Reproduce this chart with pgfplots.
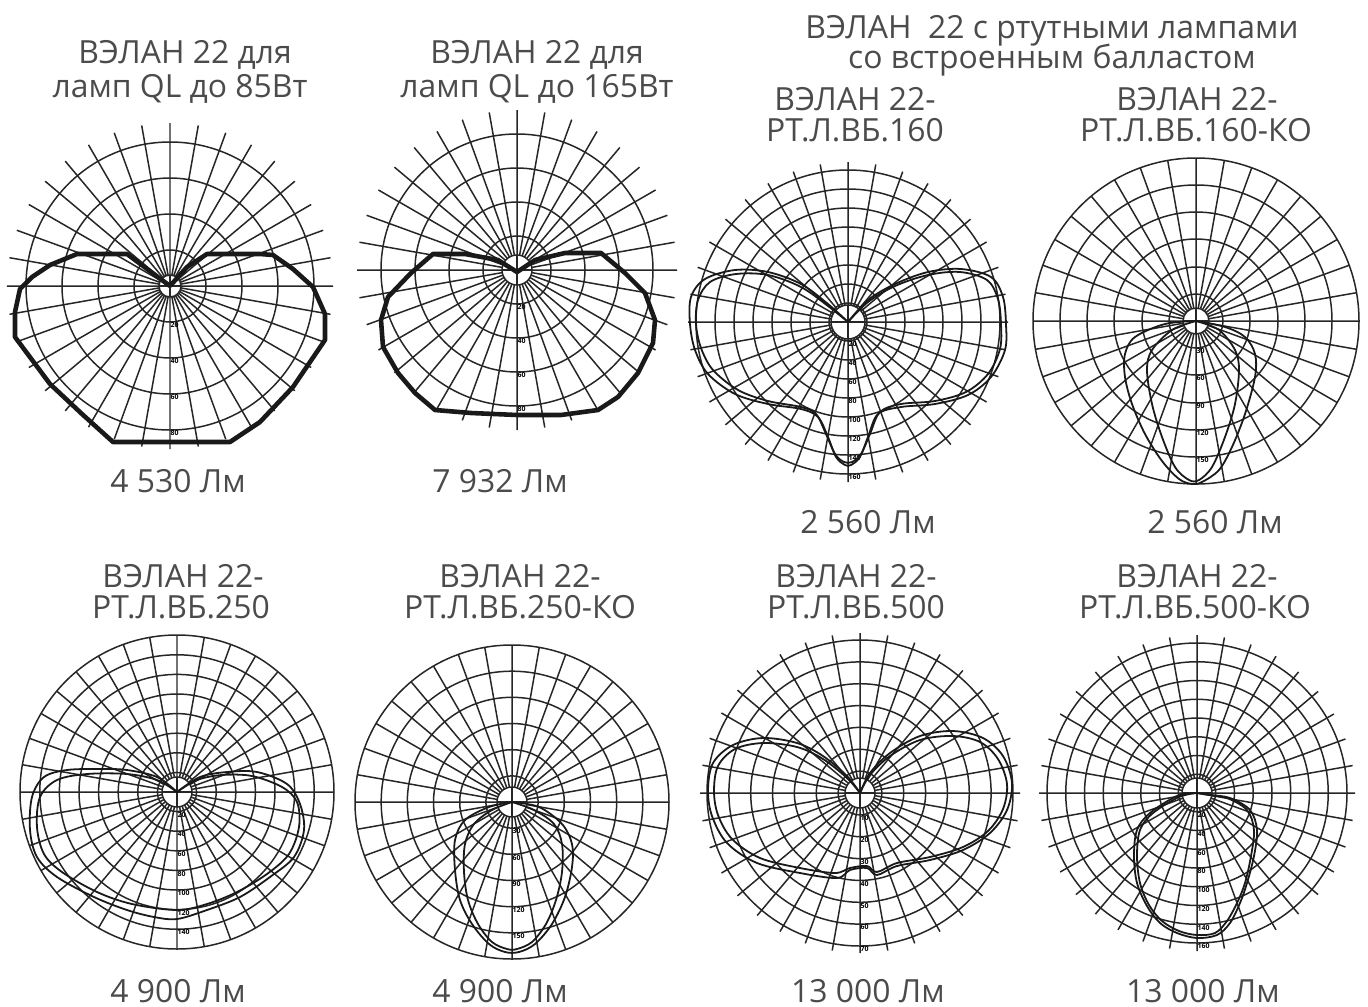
\documentclass[border=0pt]{standalone}
\usepackage{fontspec}
\setmainfont{Open Sans}
\usepackage{pgfplots}
\usepgfplotslibrary{polar}
\pgfplotsset{compat=1.18}
\definecolor{txt}{RGB}{75,75,75}

\pgfplotsset{
  diag/.style={
    scale only axis,
    anchor=center,
    clip=false,
    xmin=-90, xmax=270,
    xtick={-90,-80,...,260},
    xticklabels={},
    ymin=0,
    xmajorgrids, ymajorgrids,
    grid style={line width=1.5pt, black!85},
    axis line style={draw=none},
    major tick length=0pt,
    yticklabel style={font=\fontsize{7}{7}\selectfont\bfseries, anchor=north west, inner sep=0.5pt},
  },
  thickcurve/.style={data cs=cart, line width=4.6pt, line join=round, black!90},
  thincurve/.style={data cs=cart, line width=1.8pt, smooth, tension=0.55, black!90},
}

\newcommand{\hole}[1]{%
  \fill[white] (axis cs:0,0) circle[radius=#1bp];
  \draw[line width=1.5pt, black!85] (axis cs:0,0) circle[radius=#1bp];
  \draw[line width=1.5pt, black!85] (axis cs:0,#1) -- (axis cs:180,#1);
  \draw[line width=1.5pt, black!85] (axis cs:90,#1) -- (axis cs:270,#1);
}

\begin{document}
\begin{tikzpicture}
\path[use as bounding box] (0,0) rectangle (1368bp,-1007bp);

% titles
\begin{scope}[every node/.style={font=\fontsize{32}{38}\selectfont, text=txt, anchor=base, inner sep=0pt}]
\node at (185bp,-63bp) {ВЭЛАН 22 для};
\node at (180bp,-97bp) {ламп QL до 85Вт};
\node at (537bp,-63bp) {ВЭЛАН 22 для};
\node at (537bp,-97bp) {ламп QL до 165Вт};
\node at (1052bp,-38bp) {ВЭЛАН \ 22 с ртутными лампами};
\node at (1052bp,-68bp) {со встроенным балластом};
\node at (855bp,-110bp) {ВЭЛАН 22-};
\node at (855bp,-141bp) {РТ.Л.ВБ.160};
\node at (1197bp,-110bp) {ВЭЛАН 22-};
\node at (1196bp,-141bp) {РТ.Л.ВБ.160-КО};
\node at (178bp,-492bp) {4 530 Лм};
\node at (500bp,-492bp) {7 932 Лм};
\node at (868bp,-533bp) {2 560 Лм};
\node at (1215bp,-533bp) {2 560 Лм};
\node at (183bp,-587bp) {ВЭЛАН 22-};
\node at (181bp,-618bp) {РТ.Л.ВБ.250};
\node at (520bp,-587bp) {ВЭЛАН 22-};
\node at (520bp,-618bp) {РТ.Л.ВБ.250-КО};
\node at (856bp,-587bp) {ВЭЛАН 22-};
\node at (856bp,-618bp) {РТ.Л.ВБ.500};
\node at (1197bp,-587bp) {ВЭЛАН 22-};
\node at (1195bp,-618bp) {РТ.Л.ВБ.500-КО};
\node at (178bp,-1002bp) {4 900 Лм};
\node at (500bp,-1002bp) {4 900 Лм};
\node at (868bp,-1002bp) {13 000 Лм};
\node at (1203bp,-1002bp) {13 000 Лм};
\end{scope}

% 1: QL 85 W
\begin{polaraxis}[diag, at={(170bp,-286bp)}, width=326bp, height=326bp,
  ymax=163, ytick={36,72,108,144}, yticklabels={20,40,60,80}]
\hole{11}
\addplot[thickcurve] coordinates {
 (0,0) (-43,32) (-93,32) (-120,21) (-138,9) (-150,-3) (-155,-26) (-155,-51)
 (-120,-98) (-88,-128) (-57,-156) (60,-156) (90,-136) (123,-101) (155,-54)
 (155,-28) (143,-1) (123,17) (103,31) (90,32) (37,32) (17,19) (0,0)};
\end{polaraxis}

% 2: QL 165 W
\begin{polaraxis}[diag, at={(517bp,-270bp)}, width=320bp, height=320bp,
  ymax=160, ytick={34,68,102,136}, yticklabels={20,40,60,80}]
\hole{15}
\addplot[thickcurve] coordinates {
 (0,-2) (-19,10) (-52,16) (-84,16) (-106,-3) (-129,-27) (-136,-50) (-134,-77)
 (-119,-103) (-102,-123) (-82,-140) (-46,-143) (0,-145) (44,-145) (81,-140)
 (101,-127) (121,-103) (136,-73) (138,-50) (128,-23) (108,-3) (84,17) (48,17)
 (18,10) (0,-2)};
\end{polaraxis}

% 3: RT.L.VB.160
\begin{polaraxis}[diag, at={(848bp,-322bp)}, width=320bp, height=320bp,
  ymax=160, ytick={19,38,57,76,95,114,133,152},
  yticklabels={20,40,60,80,100,120,140,160}]
\hole{17}
\addplot[thincurve] coordinates {
 (0,0) (-20,18) (-47,38) (-80,50) (-113,52) (-143,43) (-157,25) (-158,-2)
 (-153,-28) (-140,-52) (-113,-72) (-80,-82) (-47,-87) (-30,-95) (-20,-115)
 (-12,-135) (-3,-143) (3,-143) (12,-135) (20,-115) (30,-92) (53,-85) (87,-82)
 (120,-73) (143,-55) (157,-28) (158,-2) (155,25) (143,45) (113,53) (80,50)
 (47,38) (20,22) (0,0)};
\addplot[thincurve] coordinates {
 (0,0) (-20,16) (-47,35) (-80,47) (-112,48) (-138,40) (-150,22) (-152,-2)
 (-147,-26) (-135,-48) (-110,-68) (-80,-79) (-47,-85) (-32,-92) (-22,-112)
 (-13,-132) (-4,-140) (4,-140) (13,-132) (22,-112) (32,-90) (53,-82) (87,-79)
 (118,-70) (140,-52) (152,-27) (153,-2) (150,23) (139,42) (112,50) (80,47)
 (47,36) (20,20) (0,0)};
\end{polaraxis}

% 4: RT.L.VB.160-KO
\begin{polaraxis}[diag, at={(1196bp,-321bp)}, width=326bp, height=326bp,
  ymax=163, ytick={27,54,82,109,136,163}, yticklabels={30,60,90,120,150,{}}]
\hole{13}
\addplot[thincurve] coordinates {
 (0,0) (-31,-3) (-61,-16) (-71,-33) (-71,-56) (-64,-83) (-51,-113) (-34,-140)
 (-17,-158) (-4,-163) (6,-161) (23,-149) (36,-126) (49,-93) (59,-56) (59,-33)
 (49,-16) (29,-6) (0,0)};
\addplot[thincurve] coordinates {
 (0,0) (-24,-9) (-44,-29) (-49,-49) (-44,-83) (-34,-116) (-21,-146) (-7,-159)
 (3,-159) (16,-146) (29,-116) (39,-83) (43,-49) (39,-29) (23,-9) (0,0)};
\end{polaraxis}

% 5: RT.L.VB.250
\begin{polaraxis}[diag, at={(177bp,-792bp)}, width=314bp, height=314bp,
  ymax=157, ytick={19.6,39.2,58.8,78.4,98,117.6,137.2,157},
  yticklabels={20,40,60,80,100,120,140,{}}]
\hole{15}
\addplot[thincurve] coordinates {
 (0,0) (-20,15) (-50,22) (-77,23) (-110,22) (-133,15) (-145,-5) (-147,-38)
 (-140,-65) (-120,-85) (-83,-105) (-50,-118) (-23,-125) (0,-127) (30,-118)
 (63,-105) (93,-85) (117,-65) (127,-38) (123,-12) (110,8) (80,20) (50,20)
 (23,15) (0,0)};
\addplot[thincurve] coordinates {
 (0,0) (-20,12) (-50,18) (-90,18) (-120,12) (-137,-5) (-140,-35) (-133,-62)
 (-115,-80) (-80,-100) (-45,-112) (0,-118) (30,-112) (60,-100) (90,-82)
 (112,-62) (122,-35) (120,-10) (105,5) (75,16) (45,17) (20,12) (0,0)};
\end{polaraxis}

% 6: RT.L.VB.250-KO
\begin{polaraxis}[diag, at={(512bp,-802bp)}, width=314bp, height=314bp,
  ymax=157, ytick={26.2,52.3,78.5,104.7,130.8,157},
  yticklabels={30,60,90,120,150,{}}]
\hole{15}
\addplot[thincurve] coordinates {
 (0,0) (-23,-5) (-47,-18) (-57,-38) (-57,-68) (-52,-98) (-40,-122) (-23,-142)
 (-7,-150) (7,-150) (23,-142) (40,-122) (53,-95) (60,-65) (60,-42) (50,-22)
 (27,-5) (0,0)};
\addplot[thincurve] coordinates {
 (0,0) (-20,-8) (-38,-22) (-47,-42) (-48,-70) (-44,-98) (-34,-122) (-20,-140)
 (-5,-147) (5,-147) (20,-140) (34,-122) (44,-98) (50,-70) (50,-42) (42,-22)
 (22,-8) (0,0)};
\end{polaraxis}

% 7: RT.L.VB.500
\begin{polaraxis}[diag, at={(860bp,-793bp)}, width=320bp, height=320bp,
  ymax=160, ytick={21.9,43.7,65.6,87.4,109.3,131.1,153},
  yticklabels={10,20,30,40,50,60,70}]
\hole{15}
\addplot[thincurve] coordinates {
 (0,0) (-13,17) (-37,37) (-63,50) (-97,55) (-127,48) (-147,30) (-152,3)
 (-148,-23) (-133,-50) (-103,-70) (-60,-80) (-23,-85) (-10,-77) (7,-75)
 (17,-82) (37,-73) (70,-67) (103,-57) (130,-40) (147,-17) (152,10) (143,37)
 (123,55) (93,62) (60,57) (30,40) (10,20) (0,0)};
\addplot[thincurve] coordinates {
 (0,0) (-13,15) (-37,34) (-63,46) (-97,50) (-125,44) (-142,27) (-146,2)
 (-142,-22) (-128,-46) (-100,-65) (-60,-75) (-25,-80) (-10,-75) (7,-73)
 (17,-79) (37,-70) (70,-64) (103,-54) (128,-38) (143,-16) (147,9) (138,34)
 (120,51) (93,57) (60,53) (30,37) (10,18) (0,0)};
\end{polaraxis}

% 8: RT.L.VB.500-KO
\begin{polaraxis}[diag, at={(1197bp,-793bp)}, width=316bp, height=316bp,
  ymax=158, ytick={18.75,37.5,56.25,75,93.75,112.5,131.25,150},
  yticklabels={20,40,60,80,100,120,140,160}]
\hole{15}
\addplot[thincurve] coordinates {
 (0,0) (-20,-3) (-47,-20) (-60,-37) (-63,-63) (-60,-90) (-50,-113) (-37,-130)
 (-20,-140) (0,-145) (20,-142) (33,-130) (43,-110) (50,-90) (57,-63) (60,-37)
 (53,-17) (33,-5) (13,-2) (0,0)};
\addplot[thincurve] coordinates {
 (0,0) (-18,-4) (-44,-20) (-57,-37) (-60,-63) (-57,-90) (-48,-112) (-35,-128)
 (-18,-138) (0,-142) (18,-140) (30,-128) (40,-110) (48,-90) (54,-63) (57,-37)
 (50,-17) (30,-5) (12,-2) (0,0)};
\end{polaraxis}

\end{tikzpicture}
\end{document}
